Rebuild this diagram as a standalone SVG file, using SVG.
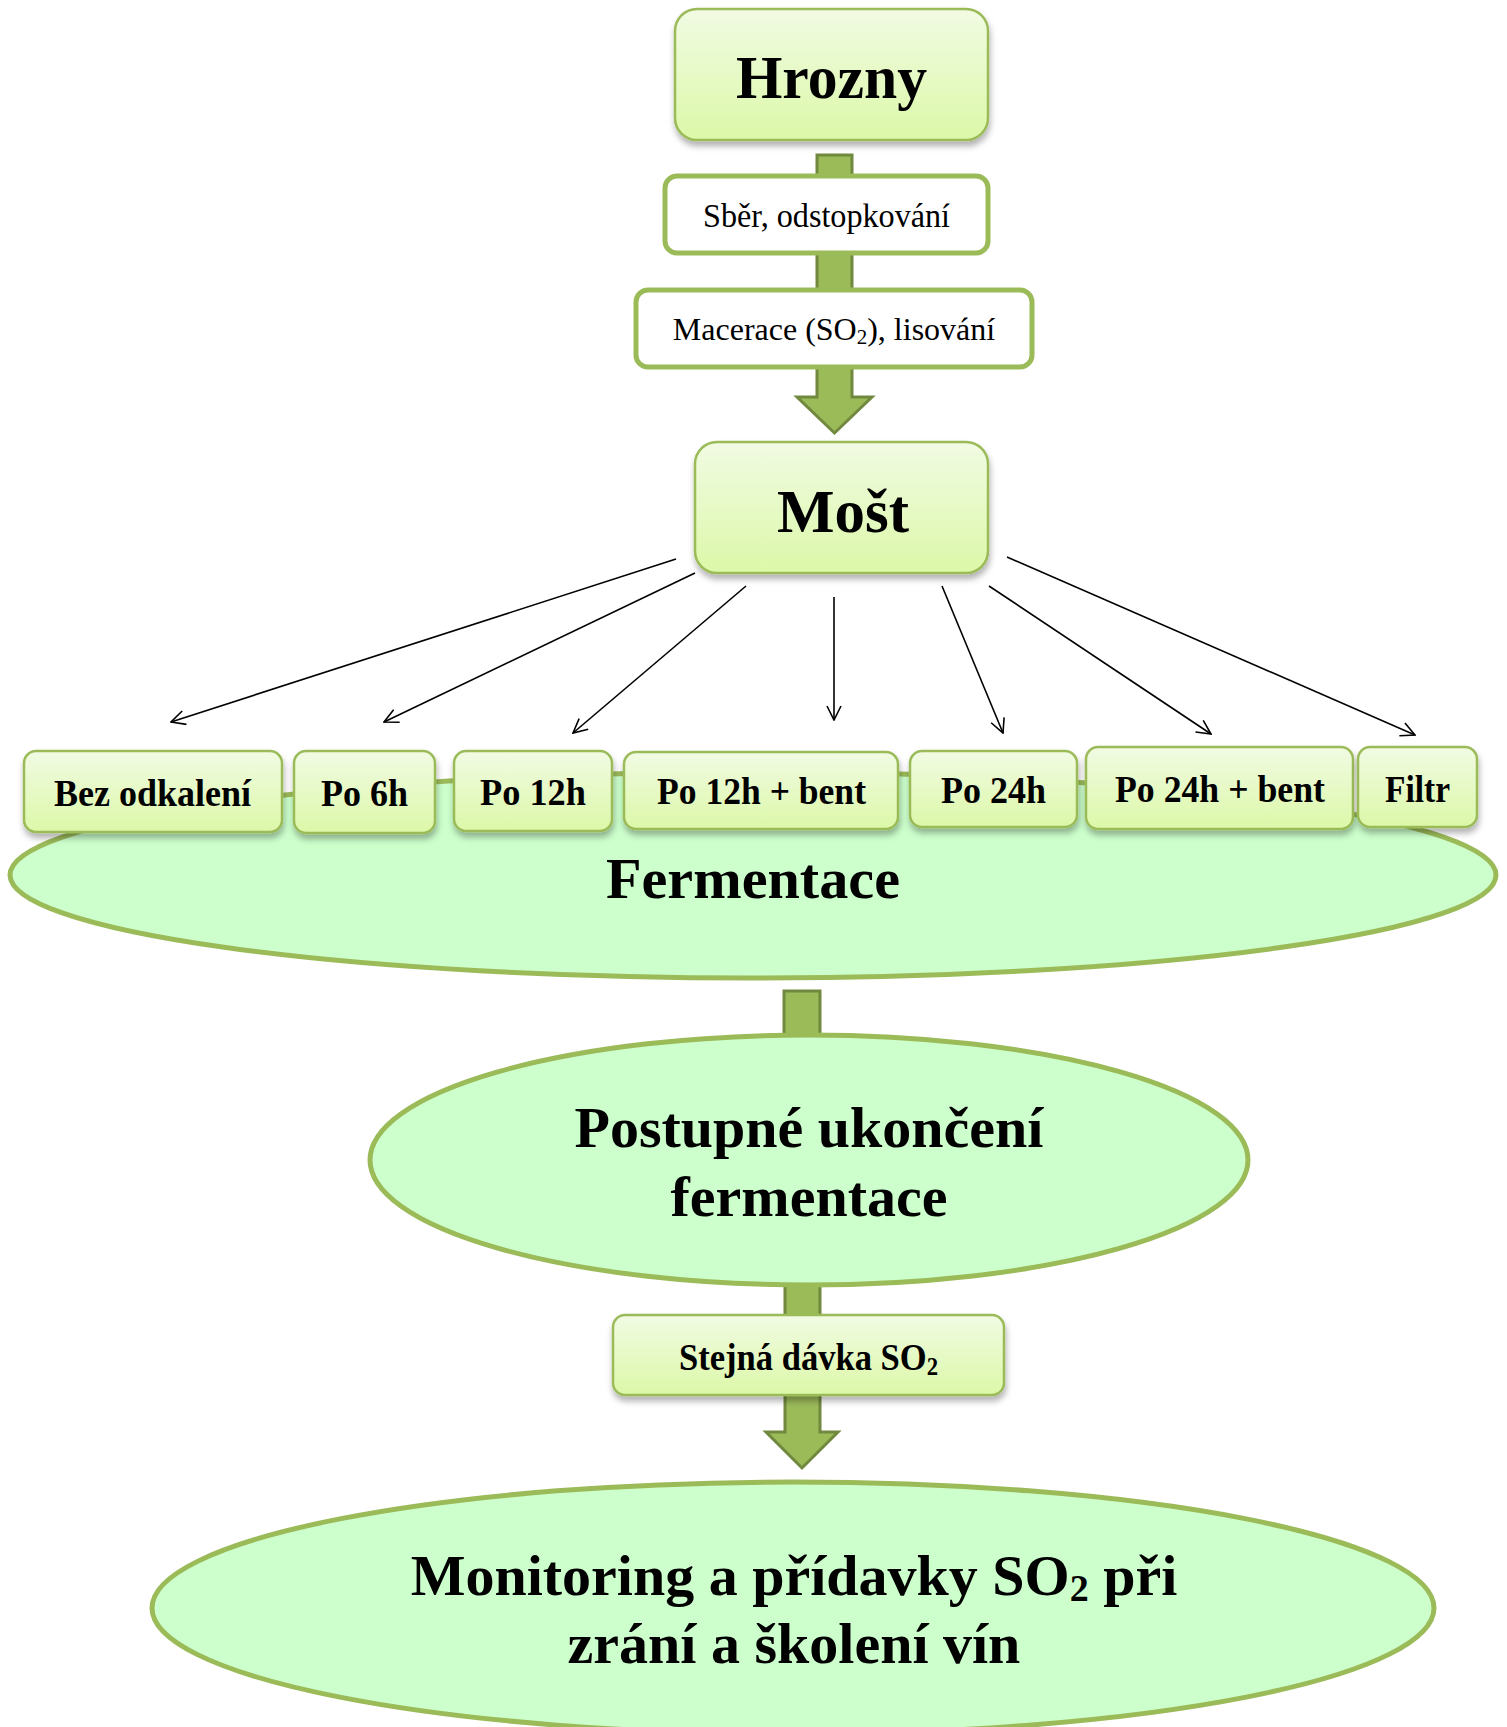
<svg xmlns="http://www.w3.org/2000/svg" width="1507" height="1727" viewBox="0 0 1507 1727">
<defs>
<linearGradient id="boxg" x1="0" y1="0" x2="0" y2="1">
<stop offset="0" stop-color="#f1fbe3"/>
<stop offset="1" stop-color="#dcf8a8"/>
</linearGradient>
<filter id="sh" x="-10%" y="-20%" width="120%" height="150%">
<feDropShadow dx="1" dy="5" stdDeviation="3" flood-color="#000" flood-opacity="0.3"/>
</filter>
<marker id="ah" viewBox="0 0 16 16" refX="15" refY="8" markerWidth="16" markerHeight="16" markerUnits="userSpaceOnUse" orient="auto">
<path d="M1,1 L15,8 L1,15" fill="none" stroke="#000" stroke-width="1.6"/>
</marker>
<style>
.gbox{fill:url(#boxg);stroke:#9bbb59;stroke-width:2.5;filter:url(#sh)}
.wbox{fill:#fff;stroke:#9bbb59;stroke-width:5}
.ell{fill:#ccffcc;stroke:#9bbb59;stroke-width:5}
.big{fill:#9bbb59;stroke:#71893f;stroke-width:3}
.tb{font-family:"Liberation Serif","Times New Roman",serif;font-weight:bold;fill:#000;text-anchor:middle}
.tr{font-family:"Liberation Serif","Times New Roman",serif;fill:#000;text-anchor:middle}
.thin{stroke:#000;stroke-width:1.6;fill:none;marker-end:url(#ah)}
</style>
</defs>

<g id="flow-arrows">
<path class="big" d="M817,155 H852 V397 H872 L834.5,433 L797,397 H817 Z"/>
<path class="big" d="M784,991 H820 V1045 H784 Z"/>
<path class="big" d="M785,1280 H820 V1432 H838 L802,1468 L766,1432 H785 Z"/>
</g>

<g id="hrozny">
<rect class="gbox" x="675" y="9" width="313" height="131" rx="22"/>
<text class="tb" x="831.5" y="98" font-size="62" textLength="191" lengthAdjust="spacingAndGlyphs">Hrozny</text>
</g>

<g id="sber">
<rect class="wbox" x="665" y="176" width="323" height="77" rx="12"/>
<text class="tr" x="826.5" y="227" font-size="33" textLength="247" lengthAdjust="spacingAndGlyphs">Sběr, odstopkování</text>
</g>

<g id="macerace">
<rect class="wbox" x="636" y="290" width="396" height="77" rx="12"/>
<text class="tr" x="834" y="340" font-size="32">Macerace (SO<tspan font-size="21" dy="4">2</tspan><tspan dy="-4">), lisování</tspan></text>
</g>

<g id="most">
<rect class="gbox" x="695" y="442" width="293" height="131" rx="22"/>
<text class="tb" x="843" y="532" font-size="62" textLength="132" lengthAdjust="spacingAndGlyphs">Mošt</text>
</g>

<g id="connectors">
<line class="thin" x1="676" y1="559" x2="171" y2="722"/>
<line class="thin" x1="695" y1="573" x2="384" y2="722"/>
<line class="thin" x1="746" y1="586" x2="573" y2="733"/>
<line class="thin" x1="834" y1="597" x2="834" y2="720"/>
<line class="thin" x1="942" y1="586" x2="1003" y2="733"/>
<line class="thin" x1="989" y1="586" x2="1211" y2="734"/>
<line class="thin" x1="1007" y1="557" x2="1415" y2="735"/>
</g>

<g id="fermentace">
<ellipse class="ell" cx="753" cy="875" rx="743" ry="103"/>
<text class="tb" x="753" y="898" font-size="58" textLength="294" lengthAdjust="spacingAndGlyphs">Fermentace</text>
</g>

<g id="bez-odkaleni">
<rect class="gbox" x="24" y="751" width="258" height="81" rx="12"/>
<text class="tb" x="152.5" y="806" font-size="38" textLength="197" lengthAdjust="spacingAndGlyphs">Bez odkalení</text>
</g>
<g id="po-6h">
<rect class="gbox" x="294" y="751" width="141" height="82" rx="12"/>
<text class="tb" x="364.5" y="806" font-size="38" textLength="87" lengthAdjust="spacingAndGlyphs">Po 6h</text>
</g>
<g id="po-12h">
<rect class="gbox" x="454" y="751" width="158" height="80" rx="12"/>
<text class="tb" x="533" y="805" font-size="38" textLength="106" lengthAdjust="spacingAndGlyphs">Po 12h</text>
</g>
<g id="po-12h-bent">
<rect class="gbox" x="624" y="752" width="274" height="77" rx="12"/>
<text class="tb" x="761.5" y="804" font-size="38" textLength="209" lengthAdjust="spacingAndGlyphs">Po 12h + bent</text>
</g>
<g id="po-24h">
<rect class="gbox" x="910" y="751" width="167" height="76" rx="12"/>
<text class="tb" x="993.5" y="803" font-size="38" textLength="105" lengthAdjust="spacingAndGlyphs">Po 24h</text>
</g>
<g id="po-24h-bent">
<rect class="gbox" x="1086" y="747" width="267" height="82" rx="12"/>
<text class="tb" x="1220" y="802" font-size="38" textLength="210" lengthAdjust="spacingAndGlyphs">Po 24h + bent</text>
</g>
<g id="filtr">
<rect class="gbox" x="1358" y="747" width="119" height="80" rx="12"/>
<text class="tb" x="1417.5" y="802" font-size="38" textLength="65" lengthAdjust="spacingAndGlyphs">Filtr</text>
</g>

<g id="postupne">
<ellipse class="ell" cx="809" cy="1160" rx="439" ry="125"/>
<text class="tb" x="809" y="1147" font-size="58">Postupné ukončení</text>
<text class="tb" x="809" y="1216" font-size="58">fermentace</text>
</g>

<g id="stejna">
<rect class="gbox" x="613" y="1315" width="391" height="80" rx="12"/>
<text class="tb" x="808.5" y="1370" font-size="38" textLength="259" lengthAdjust="spacingAndGlyphs">Stejná dávka SO<tspan font-size="25" dy="5">2</tspan></text>
</g>

<g id="monitoring">
<ellipse class="ell" cx="793" cy="1608" rx="641" ry="126"/>
<text class="tb" x="794" y="1595" font-size="58">Monitoring a přídavky SO<tspan font-size="38" dy="6">2</tspan><tspan dy="-6"> při</tspan></text>
<text class="tb" x="794" y="1663" font-size="58">zrání a školení vín</text>
</g>
</svg>
